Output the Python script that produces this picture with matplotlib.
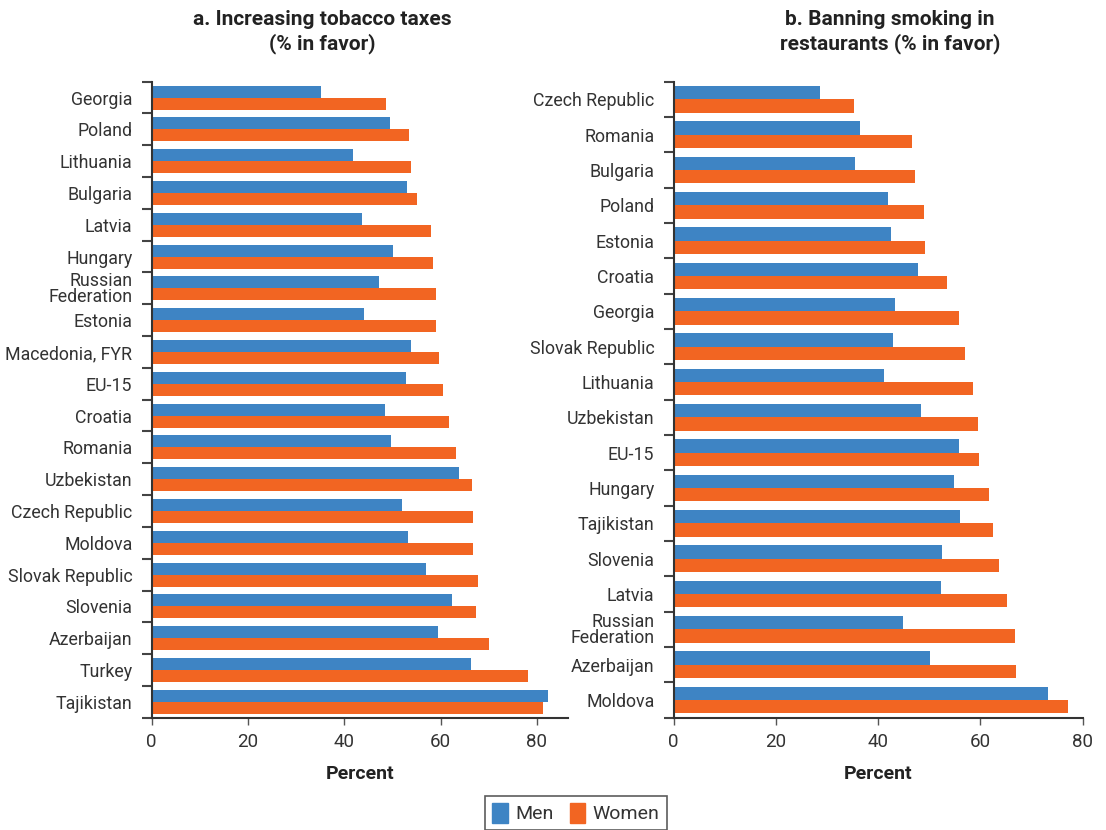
import matplotlib
matplotlib.use("Agg")
import matplotlib.pyplot as plt
import numpy as np
from matplotlib.patches import Patch

plt.rcParams['font.family'] = ['Roboto', 'DejaVu Sans']

# panel a: increasing tobacco taxes
tax_countries = ["Georgia", "Poland", "Lithuania", "Bulgaria", "Latvia", "Hungary",
                 "Russian\nFederation", "Estonia", "Macedonia, FYR", "EU-15", "Croatia",
                 "Romania", "Uzbekistan", "Czech Republic", "Moldova", "Slovak Republic",
                 "Slovenia", "Azerbaijan", "Turkey", "Tajikistan"]
tax_men = [35.1, 49.4, 41.9, 53.0, 43.6, 50.1, 47.2, 44.0, 53.8, 52.8,
           48.4, 49.6, 63.8, 51.9, 53.2, 56.9, 62.3, 59.4, 66.3, 82.3]
tax_women = [48.6, 53.4, 53.8, 55.1, 58.0, 58.4, 59.0, 59.0, 59.6, 60.4,
             61.7, 63.2, 66.5, 66.7, 66.7, 67.8, 67.4, 70.1, 78.2, 81.3]

# panel b: banning smoking in restaurants
ban_countries = ["Czech Republic", "Romania", "Bulgaria", "Poland", "Estonia", "Croatia",
                 "Georgia", "Slovak Republic", "Lithuania", "Uzbekistan", "EU-15", "Hungary",
                 "Tajikistan", "Slovenia", "Latvia", "Russian\nFederation", "Azerbaijan",
                 "Moldova"]
ban_men = [28.6, 36.5, 35.5, 41.9, 42.5, 47.8, 43.3, 42.9, 41.2, 48.4,
           55.8, 54.8, 56.0, 52.5, 52.3, 44.8, 50.2, 73.2]
ban_women = [35.3, 46.6, 47.2, 49.0, 49.2, 53.5, 55.8, 57.0, 58.6, 59.6,
             59.8, 61.7, 62.5, 63.7, 65.1, 66.8, 67.0, 77.2]

BLUE = "#3E84C4"
ORANGE = "#F26522"
TXT = "#333333"

W, H = 1106, 830
fig = plt.figure(figsize=(W / 100, H / 100), dpi=100)


def panel(rect, countries, men, women, xmax):
    ax = fig.add_axes(rect)
    n = len(countries)
    y = np.arange(n)
    h = 0.38
    ax.barh(y - h / 2, men, height=h, color=BLUE)
    ax.barh(y + h / 2, women, height=h, color=ORANGE)
    ax.set_ylim(n - 0.5, -0.5)
    ax.set_xlim(0, xmax)

    # country names at the centre, boundary ticks between groups
    ax.set_yticks(y)
    ax.set_yticklabels(countries, fontsize=12.8, color=TXT, linespacing=0.85)
    ax.set_yticks(np.arange(n + 1) - 0.5, minor=True)
    ax.tick_params(axis='y', which='major', length=0, pad=14)
    ax.tick_params(axis='y', which='minor', length=7, width=1.5, color="#444444")

    ax.set_xticks([0, 20, 40, 60, 80])
    ax.tick_params(axis='x', length=5, width=1, color="#555555", labelsize=13.5,
                   labelcolor=TXT, pad=6)
    ax.set_xlabel("Percent", fontsize=14, fontweight='bold', color="#222222", labelpad=10)

    for s in ("top", "right"):
        ax.spines[s].set_visible(False)
    for s in ("left", "bottom"):
        ax.spines[s].set_linewidth(1.5)
        ax.spines[s].set_color("#333333")
    return ax


panel([151.7 / W, 1 - 717.7 / H, 416 / W, 636 / H], tax_countries, tax_men, tax_women, 86.4)
panel([673.7 / W, 1 - 717.7 / H, 409 / W, 636 / H], ban_countries, ban_men, ban_women, 80)

fig.text(322 / W, 1 - 32 / H, "a. Increasing tobacco taxes\n(% in favor)", ha='center',
         va='center', fontsize=15, fontweight='bold', color="#222222", linespacing=1.3)
fig.text(890 / W, 1 - 32 / H, "b. Banning smoking in\nrestaurants (% in favor)", ha='center',
         va='center', fontsize=15, fontweight='bold', color="#222222", linespacing=1.3)

handles = [Patch(color=BLUE, label="Men"), Patch(color=ORANGE, label="Women")]
leg = fig.legend(handles=handles, loc='lower center', bbox_to_anchor=(576 / W, -0.012),
                 ncol=2, frameon=True, fancybox=False, fontsize=14, handlelength=0.8,
                 handleheight=1.2, handletextpad=0.4, columnspacing=0.8, borderpad=0.35)
leg.get_frame().set_edgecolor("#333333")
leg.get_frame().set_linewidth(1.2)
for t in leg.get_texts():
    t.set_color(TXT)

fig.savefig("out.png", dpi=100)
